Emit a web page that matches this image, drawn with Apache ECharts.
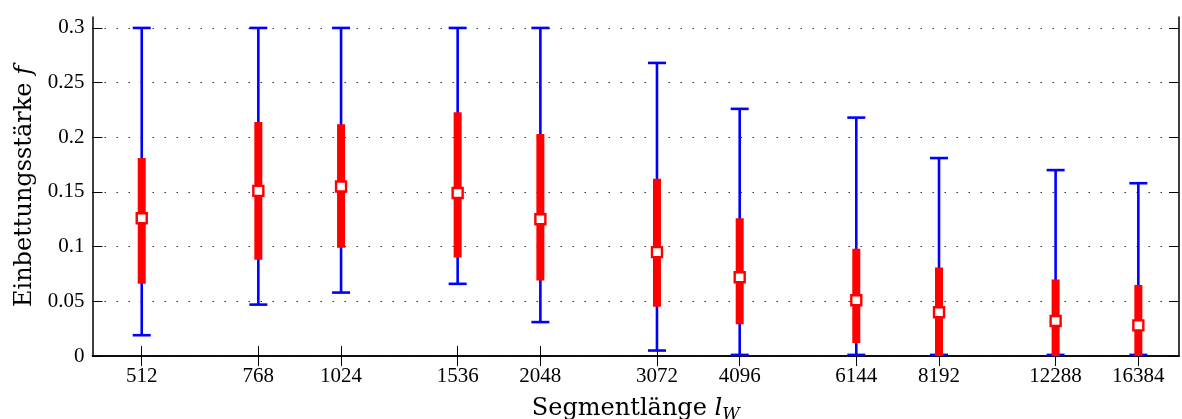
<!DOCTYPE html>
<html>
<head>
<meta charset="utf-8">
<script src="https://cdn.jsdelivr.net/npm/echarts@6/dist/echarts.min.js"></script>
<style>
  html, body { margin: 0; padding: 0; background: #fff; }
  #chart { width: 1182px; height: 419px; }
</style>
</head>
<body>
<div id="chart"></div>
<script>
// Segment lengths l_W (x positions, drawn on a log2 axis)
const segmentLengths = [512, 768, 1024, 1536, 2048, 3072, 4096, 6144, 8192, 12288, 16384];
// Whisker range of the embedding strength f
const fMin = [0.019, 0.047, 0.058, 0.066, 0.031, 0.005, 0.001, 0.001, 0.001, 0.001, 0.001];
const fMax = [0.300, 0.300, 0.300, 0.300, 0.300, 0.268, 0.226, 0.218, 0.181, 0.170, 0.158];
// Inner (thick) range
const fLow  = [0.066, 0.088, 0.099, 0.090, 0.069, 0.045, 0.029, 0.012, 0.000, 0.000, 0.000];
const fHigh = [0.181, 0.214, 0.212, 0.223, 0.203, 0.162, 0.126, 0.098, 0.081, 0.070, 0.065];
// Centre value
const fMid  = [0.126, 0.151, 0.155, 0.149, 0.125, 0.095, 0.072, 0.051, 0.040, 0.032, 0.028];
// Tick labels
const xTickLabels = [512, 768, 1024, 1536, 2048, 3072, 4096, 6144, 8192, 12288, 16384];
const yTickLabels = [0, 0.05, 0.1, 0.15, 0.2, 0.25, 0.3];

const log2 = Math.log2;
const xTicks = xTickLabels.map(log2);
const X_MIN = 8.753, X_MAX = 14.204;
const Y_MIN = 0, Y_MAX = 0.31;

const whiskerData = segmentLengths.map((l, i) => [log2(l), fMin[i], fMax[i]]);
const boxData = segmentLengths.map((l, i) => [log2(l), fLow[i], fHigh[i]]);
const midData = segmentLengths.map((l, i) => [log2(l), fMid[i]]);

const FONT = '"Liberation Serif", "DejaVu Serif", serif';
const TITLE_FONT = '"DejaVu Serif", "Liberation Serif", serif';
const BLUE = '#0000ff', RED = '#ff0000';

const chart = echarts.init(document.getElementById('chart'), null, { renderer: 'canvas' });

const frameLine = { show: true, lineStyle: { color: '#000', width: 1.5 } };
const tickIn = (vals) => ({ show: true, inside: true, length: 10, customValues: vals, lineStyle: { color: '#000', width: 1 } });

chart.setOption({
  animation: false,
  backgroundColor: '#fff',
  grid: { left: 92.5, right: 3, top: 17, bottom: 63, containLabel: false, outerBoundsMode: 'none' },
  xAxis: [
    {
      type: 'value', position: 'bottom', min: X_MIN, max: X_MAX,
      axisLine: frameLine,
      axisTick: tickIn(xTicks),
      axisLabel: {
        customValues: xTicks, margin: 10,
        fontFamily: FONT, fontSize: 21, color: '#000',
        formatter: v => String(Math.round(Math.pow(2, v)))
      },
      splitLine: { show: false },
      name: '{n|Segmentlänge }{i|l}{s|W}',
      nameLocation: 'middle', nameGap: 38,
      nameTextStyle: {
        rich: {
          n: { fontFamily: TITLE_FONT, fontSize: 24, color: '#000' },
          i: { fontFamily: TITLE_FONT, fontSize: 24, fontStyle: 'italic', color: '#000' },
          s: { fontFamily: TITLE_FONT, fontSize: 17, fontStyle: 'italic', color: '#000', padding: [12, 0, 0, 0] }
        }
      }
    },
    {
      type: 'value', position: 'top', min: X_MIN, max: X_MAX,
      axisLine: frameLine,
      axisTick: tickIn(xTicks),
      axisLabel: { show: false },
      splitLine: { show: false }
    }
  ],
  yAxis: [
    {
      type: 'value', position: 'left', min: Y_MIN, max: Y_MAX, interval: 0.05,
      axisLine: frameLine,
      axisTick: tickIn(yTickLabels),
      axisLabel: {
        customValues: yTickLabels, margin: 8,
        fontFamily: FONT, fontSize: 21, color: '#000',
        formatter: v => String(Math.round(v * 100) / 100)
      },
      splitLine: { show: true, lineStyle: { color: '#333', width: 1.2, type: [1.5, 10.5] } },
      name: '{n|Einbettungsstärke }{i|f}',
      nameLocation: 'middle', nameGap: 56, nameRotate: 90,
      nameTextStyle: {
        rich: {
          n: { fontFamily: TITLE_FONT, fontSize: 24, color: '#000' },
          i: { fontFamily: TITLE_FONT, fontSize: 24, fontStyle: 'italic', color: '#000' }
        }
      }
    },
    {
      type: 'value', position: 'right', min: Y_MIN, max: Y_MAX, interval: 0.05,
      axisLine: frameLine,
      axisTick: tickIn(yTickLabels),
      axisLabel: { show: false },
      splitLine: { show: false }
    }
  ],
  series: [
    {
      // blue whiskers with end caps
      type: 'custom', name: 'range', z: 3, clip: false,
      data: whiskerData,
      renderItem: (params, api) => {
        const x = api.value(0);
        const pLo = api.coord([x, api.value(1)]);
        const pHi = api.coord([x, api.value(2)]);
        const cap = 9;
        const st = { stroke: BLUE, lineWidth: 2.6 };
        return {
          type: 'group',
          children: [
            { type: 'line', shape: { x1: pLo[0], y1: pLo[1], x2: pHi[0], y2: pHi[1] }, style: st },
            { type: 'line', shape: { x1: pLo[0] - cap, y1: pLo[1], x2: pLo[0] + cap, y2: pLo[1] }, style: st },
            { type: 'line', shape: { x1: pHi[0] - cap, y1: pHi[1], x2: pHi[0] + cap, y2: pHi[1] }, style: st }
          ]
        };
      }
    },
    {
      // thick red inner range
      type: 'custom', name: 'inner', z: 4, clip: false,
      data: boxData,
      renderItem: (params, api) => {
        const x = api.value(0);
        const pLo = api.coord([x, api.value(1)]);
        const pHi = api.coord([x, api.value(2)]);
        const w = 8;
        return {
          type: 'rect',
          shape: { x: pLo[0] - w / 2, y: pHi[1], width: w, height: pLo[1] - pHi[1] },
          style: { fill: RED }
        };
      }
    },
    {
      // centre marker
      type: 'scatter', name: 'centre', z: 5,
      data: midData,
      symbol: 'rect', symbolSize: 10,
      itemStyle: { color: '#fff', borderColor: RED, borderWidth: 2.4, opacity: 1 }
    }
  ]
});
</script>
</body>
</html>
